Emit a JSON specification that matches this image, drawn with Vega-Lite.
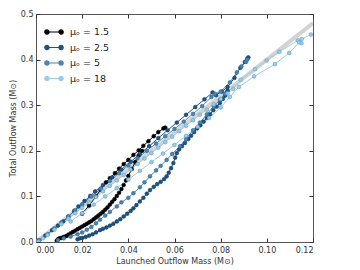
{
  "$schema": "https://vega.github.io/schema/vega-lite/v6.json",
  "width": 277,
  "height": 228,
  "autosize": {"type": "none"},
  "padding": {"left": 36, "top": 14, "right": 47, "bottom": 28},
  "background": "white",
  "config": {
    "font": "DejaVu Sans",
    "view": {"stroke": "#555", "strokeWidth": 1},
    "axis": {"labelFontSize": 8, "titleFontSize": 8, "labelColor": "#333", "titleColor": "#333", "titleFontWeight": "normal", "grid": false, "domain": false, "tickColor": "#333", "tickSize": -4, "labelPadding": 7}
  },
  "datasets": {
    "ref": [{"x": 0, "y": 0}, {"x": 0.12, "y": 0.48}],
    "runs": [
      {"mu": "μₒ = 1.5", "seg": "a", "x": 0.0090, "y": 0.003},
      {"mu": "μₒ = 1.5", "seg": "a", "x": 0.0095, "y": 0.006},
      {"mu": "μₒ = 1.5", "seg": "a", "x": 0.0100, "y": 0.008},
      {"mu": "μₒ = 1.5", "seg": "a", "x": 0.0110, "y": 0.009},
      {"mu": "μₒ = 1.5", "seg": "a", "x": 0.0120, "y": 0.011},
      {"mu": "μₒ = 1.5", "seg": "a", "x": 0.0130, "y": 0.013},
      {"mu": "μₒ = 1.5", "seg": "a", "x": 0.0140, "y": 0.016},
      {"mu": "μₒ = 1.5", "seg": "a", "x": 0.0150, "y": 0.019},
      {"mu": "μₒ = 1.5", "seg": "a", "x": 0.0160, "y": 0.022},
      {"mu": "μₒ = 1.5", "seg": "a", "x": 0.0170, "y": 0.025},
      {"mu": "μₒ = 1.5", "seg": "a", "x": 0.0180, "y": 0.028},
      {"mu": "μₒ = 1.5", "seg": "a", "x": 0.0190, "y": 0.031},
      {"mu": "μₒ = 1.5", "seg": "a", "x": 0.0200, "y": 0.034},
      {"mu": "μₒ = 1.5", "seg": "a", "x": 0.0210, "y": 0.037},
      {"mu": "μₒ = 1.5", "seg": "a", "x": 0.0220, "y": 0.040},
      {"mu": "μₒ = 1.5", "seg": "a", "x": 0.0230, "y": 0.043},
      {"mu": "μₒ = 1.5", "seg": "a", "x": 0.0240, "y": 0.046},
      {"mu": "μₒ = 1.5", "seg": "a", "x": 0.0250, "y": 0.050},
      {"mu": "μₒ = 1.5", "seg": "a", "x": 0.0260, "y": 0.054},
      {"mu": "μₒ = 1.5", "seg": "a", "x": 0.0270, "y": 0.058},
      {"mu": "μₒ = 1.5", "seg": "a", "x": 0.0280, "y": 0.062},
      {"mu": "μₒ = 1.5", "seg": "a", "x": 0.0290, "y": 0.066},
      {"mu": "μₒ = 1.5", "seg": "a", "x": 0.0300, "y": 0.071},
      {"mu": "μₒ = 1.5", "seg": "a", "x": 0.0310, "y": 0.076},
      {"mu": "μₒ = 1.5", "seg": "a", "x": 0.0320, "y": 0.082},
      {"mu": "μₒ = 1.5", "seg": "a", "x": 0.0330, "y": 0.088},
      {"mu": "μₒ = 1.5", "seg": "a", "x": 0.0340, "y": 0.094},
      {"mu": "μₒ = 1.5", "seg": "a", "x": 0.0350, "y": 0.101},
      {"mu": "μₒ = 1.5", "seg": "a", "x": 0.0360, "y": 0.108},
      {"mu": "μₒ = 1.5", "seg": "a", "x": 0.0370, "y": 0.116},
      {"mu": "μₒ = 1.5", "seg": "a", "x": 0.0380, "y": 0.125},
      {"mu": "μₒ = 1.5", "seg": "a", "x": 0.0390, "y": 0.135},
      {"mu": "μₒ = 1.5", "seg": "a", "x": 0.0400, "y": 0.145},
      {"mu": "μₒ = 1.5", "seg": "a", "x": 0.0415, "y": 0.160},
      {"mu": "μₒ = 1.5", "seg": "a", "x": 0.0430, "y": 0.175},
      {"mu": "μₒ = 1.5", "seg": "a", "x": 0.0445, "y": 0.190},
      {"mu": "μₒ = 1.5", "seg": "a", "x": 0.0460, "y": 0.200},
      {"mu": "μₒ = 1.5", "seg": "b", "x": 0.0200, "y": 0.062},
      {"mu": "μₒ = 1.5", "seg": "b", "x": 0.0230, "y": 0.080},
      {"mu": "μₒ = 1.5", "seg": "b", "x": 0.0260, "y": 0.100},
      {"mu": "μₒ = 1.5", "seg": "b", "x": 0.0280, "y": 0.115},
      {"mu": "μₒ = 1.5", "seg": "b", "x": 0.0303, "y": 0.131},
      {"mu": "μₒ = 1.5", "seg": "b", "x": 0.0320, "y": 0.140},
      {"mu": "μₒ = 1.5", "seg": "b", "x": 0.0342, "y": 0.151},
      {"mu": "μₒ = 1.5", "seg": "b", "x": 0.0360, "y": 0.161},
      {"mu": "μₒ = 1.5", "seg": "b", "x": 0.0380, "y": 0.171},
      {"mu": "μₒ = 1.5", "seg": "b", "x": 0.0400, "y": 0.180},
      {"mu": "μₒ = 1.5", "seg": "b", "x": 0.0422, "y": 0.191},
      {"mu": "μₒ = 1.5", "seg": "b", "x": 0.0445, "y": 0.201},
      {"mu": "μₒ = 1.5", "seg": "b", "x": 0.0465, "y": 0.211},
      {"mu": "μₒ = 1.5", "seg": "b", "x": 0.0487, "y": 0.221},
      {"mu": "μₒ = 1.5", "seg": "b", "x": 0.0510, "y": 0.232},
      {"mu": "μₒ = 1.5", "seg": "b", "x": 0.0530, "y": 0.241},
      {"mu": "μₒ = 1.5", "seg": "b", "x": 0.0552, "y": 0.249},
      {"mu": "μₒ = 1.5", "seg": "b", "x": 0.0560, "y": 0.251},

      {"mu": "μₒ = 2.5", "seg": "a", "x": 0.0180, "y": 0.006},
      {"mu": "μₒ = 2.5", "seg": "a", "x": 0.0190, "y": 0.008},
      {"mu": "μₒ = 2.5", "seg": "a", "x": 0.0200, "y": 0.009},
      {"mu": "μₒ = 2.5", "seg": "a", "x": 0.0215, "y": 0.011},
      {"mu": "μₒ = 2.5", "seg": "a", "x": 0.0230, "y": 0.014},
      {"mu": "μₒ = 2.5", "seg": "a", "x": 0.0245, "y": 0.017},
      {"mu": "μₒ = 2.5", "seg": "a", "x": 0.0260, "y": 0.021},
      {"mu": "μₒ = 2.5", "seg": "a", "x": 0.0277, "y": 0.026},
      {"mu": "μₒ = 2.5", "seg": "a", "x": 0.0290, "y": 0.029},
      {"mu": "μₒ = 2.5", "seg": "a", "x": 0.0305, "y": 0.032},
      {"mu": "μₒ = 2.5", "seg": "a", "x": 0.0320, "y": 0.036},
      {"mu": "μₒ = 2.5", "seg": "a", "x": 0.0335, "y": 0.040},
      {"mu": "μₒ = 2.5", "seg": "a", "x": 0.0350, "y": 0.045},
      {"mu": "μₒ = 2.5", "seg": "a", "x": 0.0365, "y": 0.050},
      {"mu": "μₒ = 2.5", "seg": "a", "x": 0.0380, "y": 0.056},
      {"mu": "μₒ = 2.5", "seg": "a", "x": 0.0395, "y": 0.062},
      {"mu": "μₒ = 2.5", "seg": "a", "x": 0.0410, "y": 0.068},
      {"mu": "μₒ = 2.5", "seg": "a", "x": 0.0422, "y": 0.074},
      {"mu": "μₒ = 2.5", "seg": "a", "x": 0.0435, "y": 0.081},
      {"mu": "μₒ = 2.5", "seg": "a", "x": 0.0450, "y": 0.089},
      {"mu": "μₒ = 2.5", "seg": "a", "x": 0.0465, "y": 0.097},
      {"mu": "μₒ = 2.5", "seg": "a", "x": 0.0480, "y": 0.106},
      {"mu": "μₒ = 2.5", "seg": "a", "x": 0.0494, "y": 0.114},
      {"mu": "μₒ = 2.5", "seg": "a", "x": 0.0510, "y": 0.121},
      {"mu": "μₒ = 2.5", "seg": "a", "x": 0.0525, "y": 0.127},
      {"mu": "μₒ = 2.5", "seg": "a", "x": 0.0540, "y": 0.132},
      {"mu": "μₒ = 2.5", "seg": "a", "x": 0.0555, "y": 0.138},
      {"mu": "μₒ = 2.5", "seg": "a", "x": 0.0566, "y": 0.144},
      {"mu": "μₒ = 2.5", "seg": "a", "x": 0.0575, "y": 0.152},
      {"mu": "μₒ = 2.5", "seg": "a", "x": 0.0585, "y": 0.162},
      {"mu": "μₒ = 2.5", "seg": "a", "x": 0.0595, "y": 0.173},
      {"mu": "μₒ = 2.5", "seg": "a", "x": 0.0603, "y": 0.185},
      {"mu": "μₒ = 2.5", "seg": "a", "x": 0.0610, "y": 0.195},
      {"mu": "μₒ = 2.5", "seg": "a", "x": 0.0620, "y": 0.203},
      {"mu": "μₒ = 2.5", "seg": "a", "x": 0.0632, "y": 0.210},
      {"mu": "μₒ = 2.5", "seg": "a", "x": 0.0645, "y": 0.217},
      {"mu": "μₒ = 2.5", "seg": "a", "x": 0.0660, "y": 0.226},
      {"mu": "μₒ = 2.5", "seg": "a", "x": 0.0672, "y": 0.233},
      {"mu": "μₒ = 2.5", "seg": "a", "x": 0.0685, "y": 0.241},
      {"mu": "μₒ = 2.5", "seg": "a", "x": 0.0698, "y": 0.249},
      {"mu": "μₒ = 2.5", "seg": "a", "x": 0.0712, "y": 0.256},
      {"mu": "μₒ = 2.5", "seg": "a", "x": 0.0726, "y": 0.264},
      {"mu": "μₒ = 2.5", "seg": "a", "x": 0.0740, "y": 0.272},
      {"mu": "μₒ = 2.5", "seg": "a", "x": 0.0754, "y": 0.280},
      {"mu": "μₒ = 2.5", "seg": "a", "x": 0.0768, "y": 0.289},
      {"mu": "μₒ = 2.5", "seg": "a", "x": 0.0783, "y": 0.297},
      {"mu": "μₒ = 2.5", "seg": "a", "x": 0.0797, "y": 0.305},
      {"mu": "μₒ = 2.5", "seg": "a", "x": 0.0810, "y": 0.314},
      {"mu": "μₒ = 2.5", "seg": "a", "x": 0.0820, "y": 0.321},
      {"mu": "μₒ = 2.5", "seg": "a", "x": 0.0826, "y": 0.327},
      {"mu": "μₒ = 2.5", "seg": "a", "x": 0.0830, "y": 0.332},
      {"mu": "μₒ = 2.5", "seg": "b", "x": 0.0010, "y": 0.003},
      {"mu": "μₒ = 2.5", "seg": "b", "x": 0.0040, "y": 0.014},
      {"mu": "μₒ = 2.5", "seg": "b", "x": 0.0070, "y": 0.026},
      {"mu": "μₒ = 2.5", "seg": "b", "x": 0.0095, "y": 0.036},
      {"mu": "μₒ = 2.5", "seg": "b", "x": 0.0118, "y": 0.045},
      {"mu": "μₒ = 2.5", "seg": "b", "x": 0.0140, "y": 0.055},
      {"mu": "μₒ = 2.5", "seg": "b", "x": 0.0165, "y": 0.068},
      {"mu": "μₒ = 2.5", "seg": "b", "x": 0.0184, "y": 0.078},
      {"mu": "μₒ = 2.5", "seg": "b", "x": 0.0210, "y": 0.090},
      {"mu": "μₒ = 2.5", "seg": "b", "x": 0.0235, "y": 0.101},
      {"mu": "μₒ = 2.5", "seg": "b", "x": 0.0256, "y": 0.111},
      {"mu": "μₒ = 2.5", "seg": "b", "x": 0.0290, "y": 0.125},
      {"mu": "μₒ = 2.5", "seg": "b", "x": 0.0330, "y": 0.142},
      {"mu": "μₒ = 2.5", "seg": "b", "x": 0.0370, "y": 0.159},
      {"mu": "μₒ = 2.5", "seg": "b", "x": 0.0410, "y": 0.176},
      {"mu": "μₒ = 2.5", "seg": "b", "x": 0.0450, "y": 0.193},
      {"mu": "μₒ = 2.5", "seg": "b", "x": 0.0490, "y": 0.210},
      {"mu": "μₒ = 2.5", "seg": "b", "x": 0.0530, "y": 0.228},
      {"mu": "μₒ = 2.5", "seg": "b", "x": 0.0570, "y": 0.245},
      {"mu": "μₒ = 2.5", "seg": "b", "x": 0.0610, "y": 0.262},
      {"mu": "μₒ = 2.5", "seg": "b", "x": 0.0650, "y": 0.279},
      {"mu": "μₒ = 2.5", "seg": "b", "x": 0.0690, "y": 0.296},
      {"mu": "μₒ = 2.5", "seg": "b", "x": 0.0730, "y": 0.313},
      {"mu": "μₒ = 2.5", "seg": "b", "x": 0.0765, "y": 0.328},
      {"mu": "μₒ = 2.5", "seg": "b", "x": 0.0780, "y": 0.322},
      {"mu": "μₒ = 2.5", "seg": "b", "x": 0.0805, "y": 0.330},
      {"mu": "μₒ = 2.5", "seg": "b", "x": 0.0830, "y": 0.340},
      {"mu": "μₒ = 2.5", "seg": "b", "x": 0.0860, "y": 0.360},
      {"mu": "μₒ = 2.5", "seg": "b", "x": 0.0885, "y": 0.382},
      {"mu": "μₒ = 2.5", "seg": "b", "x": 0.0905, "y": 0.395},
      {"mu": "μₒ = 2.5", "seg": "b", "x": 0.0915, "y": 0.402},
      {"mu": "μₒ = 2.5", "seg": "b", "x": 0.0920, "y": 0.405},

      {"mu": "μₒ = 5", "seg": "a", "x": 0.0095, "y": 0.004},
      {"mu": "μₒ = 5", "seg": "a", "x": 0.0120, "y": 0.008},
      {"mu": "μₒ = 5", "seg": "a", "x": 0.0150, "y": 0.012},
      {"mu": "μₒ = 5", "seg": "a", "x": 0.0180, "y": 0.017},
      {"mu": "μₒ = 5", "seg": "a", "x": 0.0200, "y": 0.021},
      {"mu": "μₒ = 5", "seg": "a", "x": 0.0220, "y": 0.027},
      {"mu": "μₒ = 5", "seg": "a", "x": 0.0240, "y": 0.033},
      {"mu": "μₒ = 5", "seg": "a", "x": 0.0260, "y": 0.041},
      {"mu": "μₒ = 5", "seg": "a", "x": 0.0277, "y": 0.049},
      {"mu": "μₒ = 5", "seg": "a", "x": 0.0300, "y": 0.058},
      {"mu": "μₒ = 5", "seg": "a", "x": 0.0320, "y": 0.066},
      {"mu": "μₒ = 5", "seg": "a", "x": 0.0350, "y": 0.078},
      {"mu": "μₒ = 5", "seg": "a", "x": 0.0370, "y": 0.087},
      {"mu": "μₒ = 5", "seg": "a", "x": 0.0400, "y": 0.097},
      {"mu": "μₒ = 5", "seg": "a", "x": 0.0422, "y": 0.107},
      {"mu": "μₒ = 5", "seg": "a", "x": 0.0450, "y": 0.120},
      {"mu": "μₒ = 5", "seg": "a", "x": 0.0470, "y": 0.131},
      {"mu": "μₒ = 5", "seg": "a", "x": 0.0494, "y": 0.144},
      {"mu": "μₒ = 5", "seg": "a", "x": 0.0520, "y": 0.157},
      {"mu": "μₒ = 5", "seg": "a", "x": 0.0540, "y": 0.167},
      {"mu": "μₒ = 5", "seg": "a", "x": 0.0566, "y": 0.180},
      {"mu": "μₒ = 5", "seg": "a", "x": 0.0590, "y": 0.193},
      {"mu": "μₒ = 5", "seg": "a", "x": 0.0624, "y": 0.210},
      {"mu": "μₒ = 5", "seg": "a", "x": 0.0650, "y": 0.226},
      {"mu": "μₒ = 5", "seg": "a", "x": 0.0680, "y": 0.245},
      {"mu": "μₒ = 5", "seg": "a", "x": 0.0710, "y": 0.262},
      {"mu": "μₒ = 5", "seg": "a", "x": 0.0740, "y": 0.280},
      {"mu": "μₒ = 5", "seg": "a", "x": 0.0770, "y": 0.298},
      {"mu": "μₒ = 5", "seg": "a", "x": 0.0797, "y": 0.312},
      {"mu": "μₒ = 5", "seg": "a", "x": 0.0820, "y": 0.325},
      {"mu": "μₒ = 5", "seg": "b", "x": 0.0015, "y": 0.004},
      {"mu": "μₒ = 5", "seg": "b", "x": 0.0050, "y": 0.017},
      {"mu": "μₒ = 5", "seg": "b", "x": 0.0080, "y": 0.030},
      {"mu": "μₒ = 5", "seg": "b", "x": 0.0110, "y": 0.043},
      {"mu": "μₒ = 5", "seg": "b", "x": 0.0140, "y": 0.056},
      {"mu": "μₒ = 5", "seg": "b", "x": 0.0170, "y": 0.070},
      {"mu": "μₒ = 5", "seg": "b", "x": 0.0200, "y": 0.083},
      {"mu": "μₒ = 5", "seg": "b", "x": 0.0240, "y": 0.100},
      {"mu": "μₒ = 5", "seg": "b", "x": 0.0280, "y": 0.117},
      {"mu": "μₒ = 5", "seg": "b", "x": 0.0320, "y": 0.134},
      {"mu": "μₒ = 5", "seg": "b", "x": 0.0360, "y": 0.151},
      {"mu": "μₒ = 5", "seg": "b", "x": 0.0400, "y": 0.168},
      {"mu": "μₒ = 5", "seg": "b", "x": 0.0440, "y": 0.184},
      {"mu": "μₒ = 5", "seg": "b", "x": 0.0480, "y": 0.200},
      {"mu": "μₒ = 5", "seg": "b", "x": 0.0520, "y": 0.216},
      {"mu": "μₒ = 5", "seg": "b", "x": 0.0560, "y": 0.232},
      {"mu": "μₒ = 5", "seg": "b", "x": 0.0600, "y": 0.248},
      {"mu": "μₒ = 5", "seg": "b", "x": 0.0640, "y": 0.264},
      {"mu": "μₒ = 5", "seg": "b", "x": 0.0680, "y": 0.281},
      {"mu": "μₒ = 5", "seg": "b", "x": 0.0720, "y": 0.298},
      {"mu": "μₒ = 5", "seg": "b", "x": 0.0760, "y": 0.318},
      {"mu": "μₒ = 5", "seg": "b", "x": 0.0775, "y": 0.325},
      {"mu": "μₒ = 5", "seg": "b", "x": 0.0800, "y": 0.330},
      {"mu": "μₒ = 5", "seg": "b", "x": 0.0840, "y": 0.350},
      {"mu": "μₒ = 5", "seg": "b", "x": 0.0870, "y": 0.372},
      {"mu": "μₒ = 5", "seg": "b", "x": 0.0890, "y": 0.385},
      {"mu": "μₒ = 5", "seg": "b", "x": 0.0910, "y": 0.395},
      {"mu": "μₒ = 5", "seg": "b", "x": 0.0915, "y": 0.400},

      {"mu": "μₒ = 18", "seg": "a", "x": 0.0010, "y": 0.001},
      {"mu": "μₒ = 18", "seg": "a", "x": 0.0030, "y": 0.008},
      {"mu": "μₒ = 18", "seg": "a", "x": 0.0050, "y": 0.015},
      {"mu": "μₒ = 18", "seg": "a", "x": 0.0080, "y": 0.027},
      {"mu": "μₒ = 18", "seg": "a", "x": 0.0110, "y": 0.039},
      {"mu": "μₒ = 18", "seg": "a", "x": 0.0140, "y": 0.051},
      {"mu": "μₒ = 18", "seg": "a", "x": 0.0170, "y": 0.063},
      {"mu": "μₒ = 18", "seg": "a", "x": 0.0200, "y": 0.075},
      {"mu": "μₒ = 18", "seg": "a", "x": 0.0230, "y": 0.087},
      {"mu": "μₒ = 18", "seg": "a", "x": 0.0260, "y": 0.099},
      {"mu": "μₒ = 18", "seg": "a", "x": 0.0290, "y": 0.111},
      {"mu": "μₒ = 18", "seg": "a", "x": 0.0320, "y": 0.123},
      {"mu": "μₒ = 18", "seg": "a", "x": 0.0350, "y": 0.135},
      {"mu": "μₒ = 18", "seg": "a", "x": 0.0380, "y": 0.147},
      {"mu": "μₒ = 18", "seg": "a", "x": 0.0410, "y": 0.159},
      {"mu": "μₒ = 18", "seg": "a", "x": 0.0440, "y": 0.171},
      {"mu": "μₒ = 18", "seg": "a", "x": 0.0470, "y": 0.183},
      {"mu": "μₒ = 18", "seg": "a", "x": 0.0500, "y": 0.195},
      {"mu": "μₒ = 18", "seg": "a", "x": 0.0530, "y": 0.207},
      {"mu": "μₒ = 18", "seg": "a", "x": 0.0560, "y": 0.219},
      {"mu": "μₒ = 18", "seg": "a", "x": 0.0590, "y": 0.231},
      {"mu": "μₒ = 18", "seg": "a", "x": 0.0620, "y": 0.243},
      {"mu": "μₒ = 18", "seg": "a", "x": 0.0650, "y": 0.255},
      {"mu": "μₒ = 18", "seg": "a", "x": 0.0680, "y": 0.267},
      {"mu": "μₒ = 18", "seg": "a", "x": 0.0710, "y": 0.279},
      {"mu": "μₒ = 18", "seg": "a", "x": 0.0740, "y": 0.290},
      {"mu": "μₒ = 18", "seg": "a", "x": 0.0770, "y": 0.302},
      {"mu": "μₒ = 18", "seg": "a", "x": 0.0800, "y": 0.314},
      {"mu": "μₒ = 18", "seg": "a", "x": 0.0830, "y": 0.326},
      {"mu": "μₒ = 18", "seg": "a", "x": 0.0855, "y": 0.336},
      {"mu": "μₒ = 18", "seg": "a", "x": 0.0887, "y": 0.356},
      {"mu": "μₒ = 18", "seg": "a", "x": 0.0949, "y": 0.379},
      {"mu": "μₒ = 18", "seg": "a", "x": 0.0999, "y": 0.398},
      {"mu": "μₒ = 18", "seg": "a", "x": 0.1054, "y": 0.417},
      {"mu": "μₒ = 18", "seg": "a", "x": 0.1134, "y": 0.442},
      {"mu": "μₒ = 18", "seg": "a", "x": 0.1151, "y": 0.445},
      {"mu": "μₒ = 18", "seg": "a", "x": 0.1191, "y": 0.455},
      {"mu": "μₒ = 18", "seg": "b", "x": 0.0150, "y": 0.045},
      {"mu": "μₒ = 18", "seg": "b", "x": 0.0200, "y": 0.063},
      {"mu": "μₒ = 18", "seg": "b", "x": 0.0250, "y": 0.082},
      {"mu": "μₒ = 18", "seg": "b", "x": 0.0300, "y": 0.100},
      {"mu": "μₒ = 18", "seg": "b", "x": 0.0350, "y": 0.118},
      {"mu": "μₒ = 18", "seg": "b", "x": 0.0400, "y": 0.137},
      {"mu": "μₒ = 18", "seg": "b", "x": 0.0450, "y": 0.156},
      {"mu": "μₒ = 18", "seg": "b", "x": 0.0500, "y": 0.175},
      {"mu": "μₒ = 18", "seg": "b", "x": 0.0550, "y": 0.194},
      {"mu": "μₒ = 18", "seg": "b", "x": 0.0600, "y": 0.213},
      {"mu": "μₒ = 18", "seg": "b", "x": 0.0650, "y": 0.233},
      {"mu": "μₒ = 18", "seg": "b", "x": 0.0700, "y": 0.253},
      {"mu": "μₒ = 18", "seg": "b", "x": 0.0750, "y": 0.272},
      {"mu": "μₒ = 18", "seg": "b", "x": 0.0800, "y": 0.295},
      {"mu": "μₒ = 18", "seg": "b", "x": 0.0840, "y": 0.318},
      {"mu": "μₒ = 18", "seg": "b", "x": 0.0879, "y": 0.340},
      {"mu": "μₒ = 18", "seg": "b", "x": 0.0945, "y": 0.363},
      {"mu": "μₒ = 18", "seg": "b", "x": 0.1035, "y": 0.390},
      {"mu": "μₒ = 18", "seg": "b", "x": 0.1097, "y": 0.4145},
      {"mu": "μₒ = 18", "seg": "b", "x": 0.1140, "y": 0.438},
      {"mu": "μₒ = 18", "seg": "b", "x": 0.1150, "y": 0.436}
    ]
  },
  "layer": [
    {
      "data": {"name": "ref"},
      "mark": {"type": "line", "color": "#c8c8c8", "strokeWidth": 4, "opacity": 0.8, "clip": true},
      "encoding": {
        "x": {"field": "x", "type": "quantitative", "scale": {"domain": [0, 0.12], "nice": false}, "axis": {"orient": "top", "labels": false, "title": null, "values": [0, 0.02, 0.04, 0.06, 0.08, 0.1, 0.12]}},
        "y": {"field": "y", "type": "quantitative", "scale": {"domain": [0, 0.5], "nice": false}, "axis": {"orient": "right", "labels": false, "title": null, "values": [0, 0.1, 0.2, 0.3, 0.4, 0.5]}}
      }
    },
    {
      "data": {"name": "runs"},
      "mark": {"type": "line", "strokeWidth": 1, "clip": true},
      "encoding": {
        "x": {"field": "x", "type": "quantitative", "axis": {"orient": "bottom", "format": ".2f", "title": "Launched Outflow Mass (M⊙)", "values": [0, 0.02, 0.04, 0.06, 0.08, 0.1, 0.12], "labelPadding": 8, "titlePadding": 3}},
        "y": {"field": "y", "type": "quantitative", "axis": {"orient": "left", "format": ".1f", "title": "Total Outflow Mass (M⊙)", "values": [0, 0.1, 0.2, 0.3, 0.4, 0.5], "titlePadding": 3}},
        "color": {"field": "mu", "type": "nominal", "scale": {"domain": ["μₒ = 1.5", "μₒ = 2.5", "μₒ = 5", "μₒ = 18"], "range": ["#000000", "#1d5380", "#4a84b3", "#9ccbe6"]},
          "legend": {"orient": "top-left", "offset": 10, "title": null, "labelFontSize": 9.5, "labelColor": "#222", "symbolType": "M-1,0H1M-1.3,0a0.3,0.3 0 1,0 0.6,0a0.3,0.3 0 1,0 -0.6,0M0.7,0a0.3,0.3 0 1,0 0.6,0a0.3,0.3 0 1,0 -0.6,0", "symbolSize": 200, "symbolStrokeWidth": 1.2, "rowPadding": 2.5, "labelOffset": 8,
            "encode": {"symbols": {"update": {"fill": {"scale": "color", "field": "value"}, "fillOpacity": {"value": 1}}}}}},
        "detail": {"field": "seg"}
      }
    },
    {
      "data": {"name": "runs"},
      "mark": {"type": "point", "filled": true, "size": 14, "opacity": 1, "strokeWidth": 0.6, "clip": true},
      "encoding": {
        "x": {"field": "x", "type": "quantitative", "axis": null},
        "y": {"field": "y", "type": "quantitative", "axis": null},
        "fill": {"field": "mu", "type": "nominal", "legend": null, "scale": {"domain": ["μₒ = 1.5", "μₒ = 2.5", "μₒ = 5", "μₒ = 18"], "range": ["#000000", "#1d5380", "#4a84b3", "#9ccbe6"]}},
        "stroke": {"field": "mu", "type": "nominal", "legend": null, "scale": {"domain": ["μₒ = 1.5", "μₒ = 2.5", "μₒ = 5", "μₒ = 18"], "range": ["#000000", "#143e60", "#2f6690", "#5f9ec6"]}}
      }
    }
  ],
  "resolve": {"axis": {"x": "independent", "y": "independent"}}
}
